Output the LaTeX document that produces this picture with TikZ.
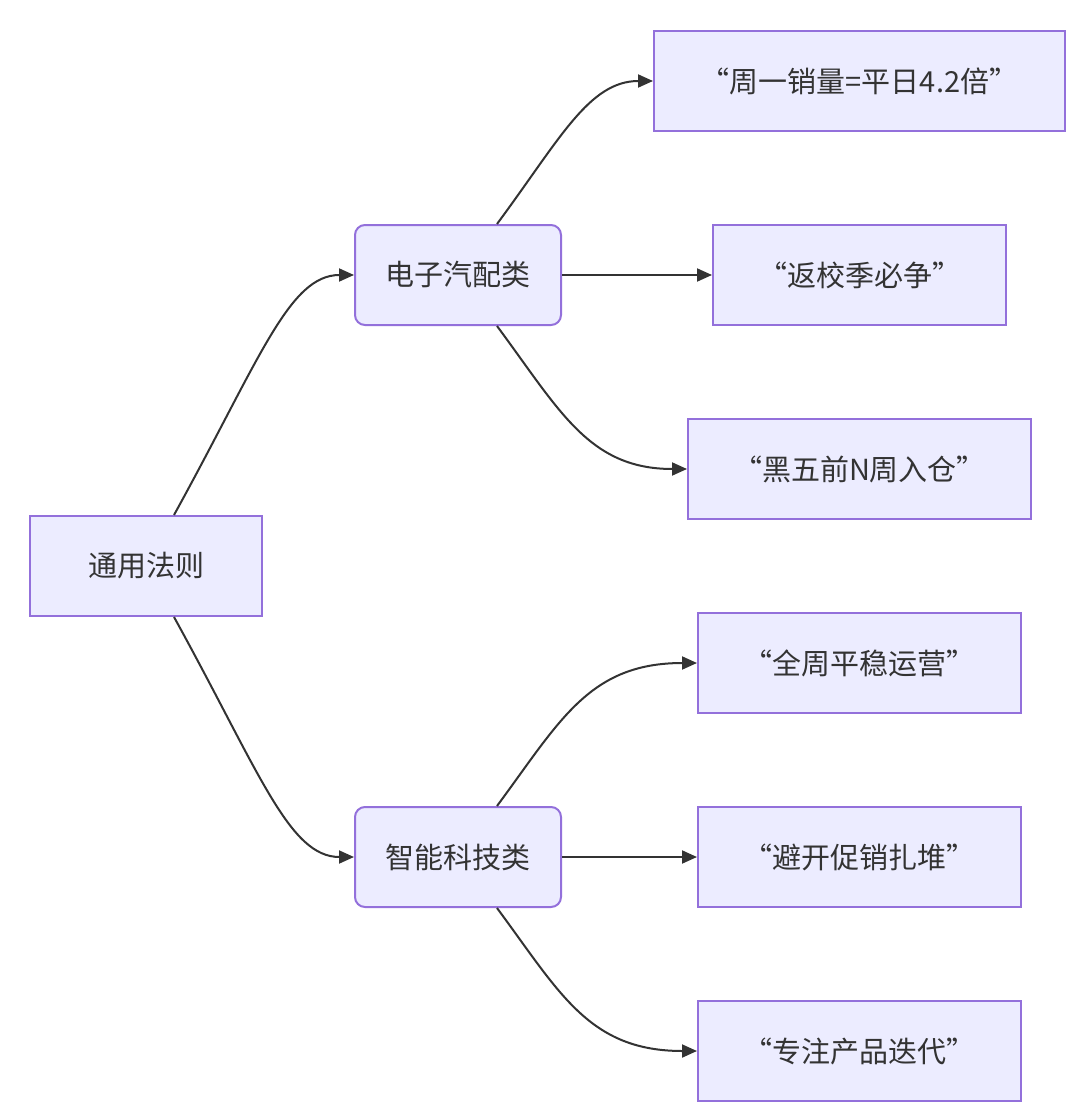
\documentclass[tikz,border=0pt]{standalone}
\usepackage{fontspec}
\setmainfont{Noto Sans CJK SC}
\usetikzlibrary{arrows.meta,calc}

\definecolor{boxfill}{HTML}{ECECFF}
\definecolor{boxline}{HTML}{9370DB}
\definecolor{ink}{HTML}{333333}

\tikzset{
    box/.style={draw=boxline, fill=boxfill, line width=2pt, text=ink,
        minimum height=100pt, font=\fontsize{29}{35}\selectfont},
    softbox/.style={box, rounded corners=10pt},
    link/.style={draw=ink, line width=2pt,
        -{Triangle[length=15pt,width=13pt]}}
}

\begin{document}
\begin{tikzpicture}[x=1pt, y=-1pt]
    \useasboundingbox (0,0) rectangle (1080,1118);

    % Root
    \node[box, minimum width=232pt] (rule) at (146,566) {通用法则};

    % Two groups
    \node[softbox, minimum width=206pt] (elec) at (458,275) {电子汽配类};
    \node[softbox, minimum width=206pt] (tech) at (458,857) {智能科技类};

    % Leaves of the first group
    \node[box, minimum width=411pt] (mon) at (859.5,81) {“周一销量=平日4.2倍”};
    \node[box, minimum width=293pt] (back) at (859.5,275) {“返校季必争”};
    \node[box, minimum width=343pt] (bf) at (859.5,469) {“黑五前N周入仓”};

    % Leaves of the second group
    \node[box, minimum width=323pt] (even) at (859.5,663) {“全周平稳运营”};
    \node[box, minimum width=323pt] (avoid) at (859.5,857) {“避开促销扎堆”};
    \node[box, minimum width=323pt] (iter) at (859.5,1051) {“专注产品迭代”};

    % Root to groups
    \draw[link] ($(rule.north)+(28,0)$) .. controls +(86,-156) and +(-65,0) .. (elec.west);
    \draw[link] ($(rule.south)+(28,0)$) .. controls +(86,156) and +(-65,0) .. (tech.west);

    % First group to leaves
    \draw[link] ($(elec.north)+(39,0)$) .. controls +(63,-85) and +(-64,0) .. (mon.west);
    \draw[link] (elec.east) -- (back.west);
    \draw[link] ($(elec.south)+(39,0)$) .. controls +(63,85) and +(-98,0) .. (bf.west);

    % Second group to leaves
    \draw[link] ($(tech.north)+(39,0)$) .. controls +(63,-85) and +(-108,0) .. (even.west);
    \draw[link] (tech.east) -- (avoid.west);
    \draw[link] ($(tech.south)+(39,0)$) .. controls +(63,85) and +(-108,0) .. (iter.west);
\end{tikzpicture}
\end{document}
